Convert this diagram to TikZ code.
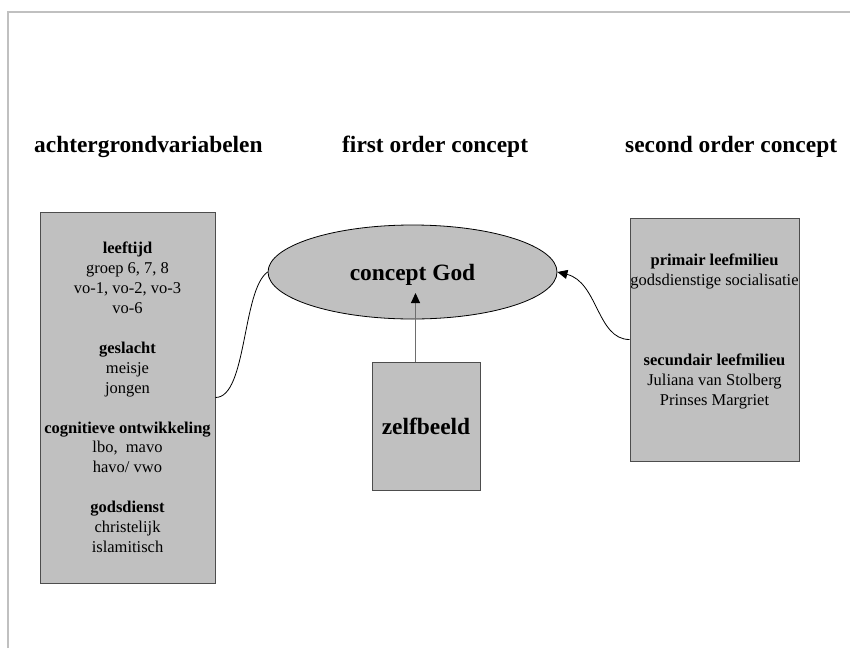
\documentclass[tikz,border=0pt]{standalone}
\usepackage{fontspec}
\setmainfont{Liberation Serif}
\usetikzlibrary{arrows.meta,shapes.geometric}
\definecolor{boxgray}{HTML}{C0C0C0}
\definecolor{framegray}{HTML}{C0C0C0}
\definecolor{edgegray}{HTML}{4D4D4D}
\definecolor{stemgray}{HTML}{6E6E6E}
\begin{document}
\begin{tikzpicture}[x=1pt,y=-1pt,
  heading/.style={font=\fontsize{23.4}{28}\selectfont\bfseries, anchor=base west, inner sep=0pt},
  panel/.style={draw=edgegray, fill=boxgray, line width=1pt, inner sep=0pt},
  body/.style={font=\fontsize{16.5}{19.9}\selectfont, align=center, inner sep=0pt},
  link/.style={black, line width=0.8pt},
  tip/.style={-{Triangle[width=9pt,length=10pt,black]}}
]
\useasboundingbox (0,0) rectangle (850,648);

% page frame (top and left edges only)
\draw[framegray, line width=2pt] (8,648) -- (8,12) -- (850,12);

% column headings
\node[heading] (h1) at (34,152) {achtergrondvariabelen};
\node[heading] (h2) at (342,152) {first order concept};
\node[heading] (h3) at (625,152) {second order concept};

% background variables
\node[panel, body, minimum width=175pt, minimum height=371pt] (bg) at (127.5,397.5)
  {\textbf{leeftijd}\\groep 6, 7, 8\\vo-1, vo-2, vo-3\\vo-6\\[19.9pt]
   \textbf{geslacht}\\meisje\\jongen\\[19.9pt]
   \textbf{cognitieve ontwikkeling}\\lbo,\ \ mavo\\havo/ vwo\\[19.9pt]
   \textbf{godsdienst}\\christelijk\\islamitisch};

% first order concept
\node[ellipse, draw=black, fill=boxgray, line width=0.8pt, minimum width=289pt,
  minimum height=94pt, inner sep=0pt, text depth=0pt,
  font=\fontsize{23.4}{28}\selectfont\bfseries] (god) at (412.5,272) {concept God};

% self image
\node[panel, font=\fontsize{23.4}{28}\selectfont\bfseries, minimum width=108pt,
  minimum height=128pt] (zb) at (426,426) {zelfbeeld};

% second order concept
\node[panel, minimum width=169pt, minimum height=243pt] (so) at (714.5,339.5) {};
\node[body, anchor=north] (sotxt) at (714.5,253.8)
  {\textbf{primair leefmilieu}\\godsdienstige socialisatie\\[60pt]
   \textbf{secundair leefmilieu}\\Juliana van Stolberg\\Prinses Margriet};

% connectors
\coordinate (godtip) at (415.5,293);
\draw[stemgray, line width=1pt, tip] (zb.north -| godtip) -- (godtip);
\draw[link] (bg.east) .. controls (247,397.5) and (242,290) .. (god.west);
\draw[link, tip] (so.west) .. controls (597,339.5) and (598,282) .. (god.east);
\end{tikzpicture}
\end{document}
